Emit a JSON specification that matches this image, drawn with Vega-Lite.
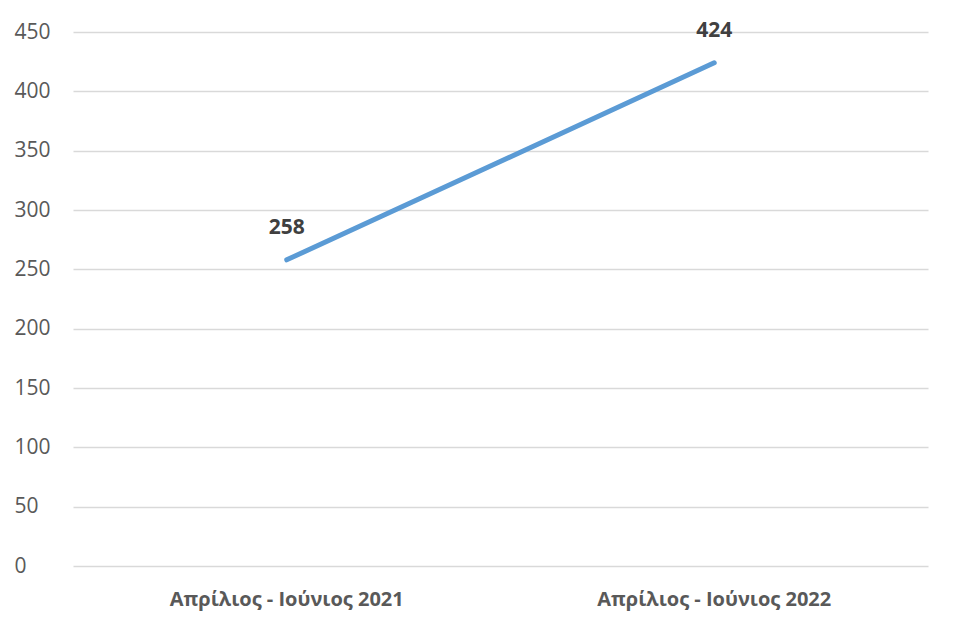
{
  "$schema": "https://vega.github.io/schema/vega-lite/v6.json",
  "autosize": "none",
  "width": 855,
  "height": 534,
  "padding": {"left": 73, "top": 32, "right": 28, "bottom": 75},
  "background": "white",
  "config": {"view": {"stroke": null}, "font": "Open Sans"},
  "data": {"values": [
    {"period": "Απρίλιος - Ιούνιος 2021", "value": 258},
    {"period": "Απρίλιος - Ιούνιος 2022", "value": 424}
  ]},
  "encoding": {
    "x": {"field": "period", "type": "nominal", "sort": null,
      "scale": {"type": "band", "paddingInner": 0, "paddingOuter": 0},
      "axis": {"title": null, "labelAngle": 0, "ticks": false, "domain": false, "grid": false, "labelLimit": 0,
        "labelFont": "Open Sans", "labelFontSize": 20, "labelFontWeight": "bold", "labelColor": "#595959", "labelPadding": 23}},
    "y": {"field": "value", "type": "quantitative",
      "scale": {"domain": [0, 450], "nice": false},
      "axis": {"title": null, "values": [0,50,100,150,200,250,300,350,400,450], "ticks": false, "domain": false,
        "gridColor": "#d9d9d9", "gridWidth": 1.5,
        "labelFont": "Open Sans", "labelFontSize": 21, "labelColor": "#595959", "labelAlign": "left", "labelPadding": 59}}
  },
  "layer": [
    {"mark": {"type": "line", "color": "#5B9BD5", "strokeWidth": 5, "strokeCap": "round"}},
    {"mark": {"type": "text", "dy": -32, "font": "Open Sans", "fontSize": 21, "fontWeight": "bold", "color": "#404040"},
      "encoding": {"text": {"field": "value", "type": "quantitative"}}}
  ]
}
